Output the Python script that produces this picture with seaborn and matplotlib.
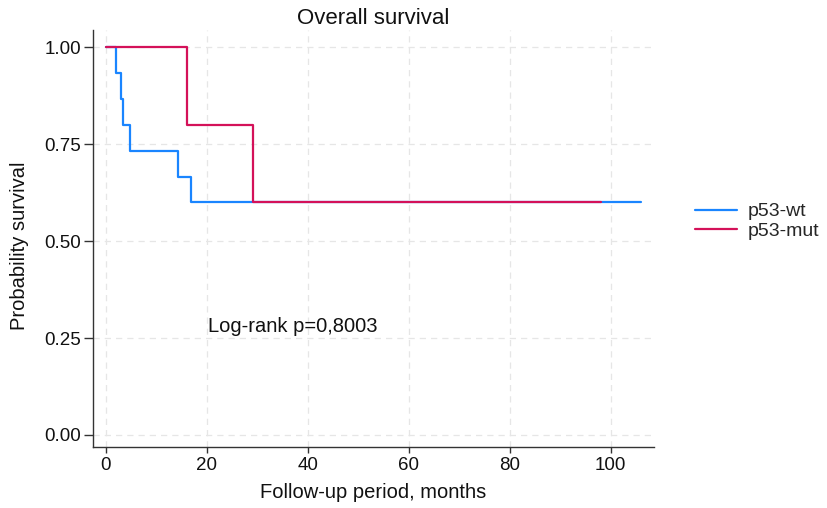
import numpy as np
import pandas as pd
import matplotlib
matplotlib.use("Agg")
import matplotlib.pyplot as plt
import seaborn as sns
from matplotlib.lines import Line2D

# Kaplan-Meier step data
wt_time = [0, 2.1, 3.0, 3.5, 4.8, 14.4, 16.9, 106.1]
wt_surv = [1.0, 14/15, 13/15, 12/15, 11/15, 10/15, 9/15, 9/15]
mut_time = [0, 16.2, 29.2, 98.1]
mut_surv = [1.0, 0.8, 0.6, 0.6]

groups = ["p53-wt", "p53-mut"]
colors = ["#1A85FF", "#D41159"]
x_ticks = [0, 20, 40, 60, 80, 100]
y_ticks = [0.0, 0.25, 0.5, 0.75, 1.0]
y_ticklabels = ["0.00", "0.25", "0.50", "0.75", "1.00"]

df = pd.concat([
    pd.DataFrame({"time": wt_time, "surv": wt_surv, "group": groups[0]}),
    pd.DataFrame({"time": mut_time, "surv": mut_surv, "group": groups[1]}),
], ignore_index=True)

sns.set_theme(style="white")
plt.rcParams["font.family"] = ["Liberation Sans", "DejaVu Sans"]

W, H = 828, 508
fig = plt.figure(figsize=(W / 100, H / 100), dpi=100)
ax = fig.add_axes([93/W, 1 - 447/H, (654 - 93)/W, (447 - 30)/H])

sns.lineplot(data=df, x="time", y="surv", hue="group", palette=dict(zip(groups, colors)),
             drawstyle="steps-post", estimator=None, sort=False, linewidth=1.6,
             ax=ax, legend=False)

ax.set_xlim(-2.5, 108.6)
ax.set_ylim(-0.031, 1.045)
ax.set_xticks(x_ticks)
ax.set_yticks(y_ticks)
ax.set_yticklabels(y_ticklabels)
ax.grid(True, linestyle=(0, (5, 4)), color="#e6e6e6", linewidth=0.9)
ax.set_axisbelow(True)

for s in ["top", "right"]:
    ax.spines[s].set_visible(False)
for s in ["left", "bottom"]:
    ax.spines[s].set_color("#333333")
    ax.spines[s].set_linewidth(1.0)
ax.tick_params(axis="both", direction="out", width=1.0, color="#333333",
               labelsize=13.5, labelcolor="#111111", left=True, bottom=True)
ax.tick_params(axis="x", length=4.5, pad=3)
ax.tick_params(axis="y", length=6.5, pad=2)

ax.set_xlabel("")
ax.set_ylabel("")
fig.text(373/W, 1 - 493/H, "Follow-up period, months", fontsize=14.5, color="#111111",
         ha="center", va="center")
fig.text(20/W, 1 - 246/H, "Probability survival", fontsize=14.5, color="#111111",
         ha="center", va="center", rotation=90)
fig.text(373/W, 1 - 19/H, "Overall survival", fontsize=16, color="#111111",
         ha="center", va="center")

ax.text(20.3, 0.281, "Log-rank p=0,8003", fontsize=14.5, color="#111111",
        ha="left", va="center")

handles = [Line2D([0], [0], color=c, lw=1.6) for c in colors]
fig.legend(handles, groups, loc="center left", bbox_to_anchor=(695/W, 1 - 221.5/H),
           frameon=False, fontsize=14, handlelength=2.15, handletextpad=0.57,
           labelspacing=0.12, borderaxespad=0, borderpad=0)

fig.savefig("out.png", dpi=100)
